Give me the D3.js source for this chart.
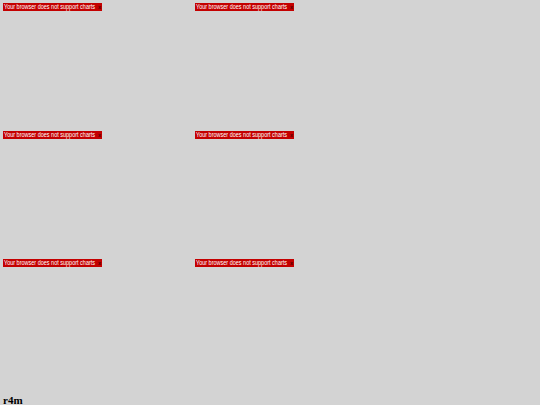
<!DOCTYPE html>
<html>
<head>
<meta charset="utf-8">
<script src="https://cdn.jsdelivr.net/npm/d3@7"></script>
<style>
  html, body { margin: 0; padding: 0; background: #d3d3d3; overflow: hidden; }
</style>
</head>
<body>
<div id="chart"></div>
<script>
(function() {
    'use strict';

    // six chart slots, each showing the fallback notice
    const panelCols = [0, 1];
    const panelRows = [0, 1, 2];
    const notice = "Your browser does not support charts";
    const closeMark = "x";
    const footer = "r4m";

    const width = 540;
    const height = 405;

    const svg = d3.select("#chart")
    .append("svg")
    .attr("width", width)
    .attr("height", height);

    svg.append("rect")
    .attr("width", width)
    .attr("height", height)
    .attr("fill", "#d3d3d3");

    // grid of panels
    const x = d3.scaleBand().domain(panelCols).range([0, 384]);
    const y = d3.scaleBand().domain(panelRows).range([0, 384]);

    const panels = [];
    panelRows.forEach(r => panelCols.forEach(c => panels.push({ r: r, c: c })));

    const g = svg.selectAll("g.panel")
    .data(panels)
    .enter()
    .append("g")
    .attr("class", "panel")
    .attr("transform", d => "translate(" + (x(d.c) + 3) + "," + (y(d.r) + 3) + ")");

    //red notice box
    g.append("rect")
    .attr("width", 99)
    .attr("height", 8)
    .attr("fill", "#c40000");

    // narrow-looking text: small font stretched vertically
    g.append("text")
    .attr("transform", "translate(1,6.4) scale(1,1.22)")
    .attr("fill", "#fff")
    .style("font-family", "Liberation Sans, Arial, sans-serif")
    .style("font-size", "5.5px")
    .text(notice);

    // little close mark
    g.append("text")
    .attr("x", 95)
    .attr("y", 6)
    .attr("fill", "#5a0000")
    .style("font-family", "Liberation Sans, Arial, sans-serif")
    .style("font-size", "5.5px")
    .style("font-weight", "bold")
    .text(closeMark);

    svg.append("text")
    .attr("x", 3)
    .attr("y", 404)
    .attr("fill", "#000")
    .style("font-family", "Liberation Serif, Times New Roman, serif")
    .style("font-size", "11px")
    .style("font-weight", "bold")
    .text(footer);

})();
</script>
</body>
</html>
